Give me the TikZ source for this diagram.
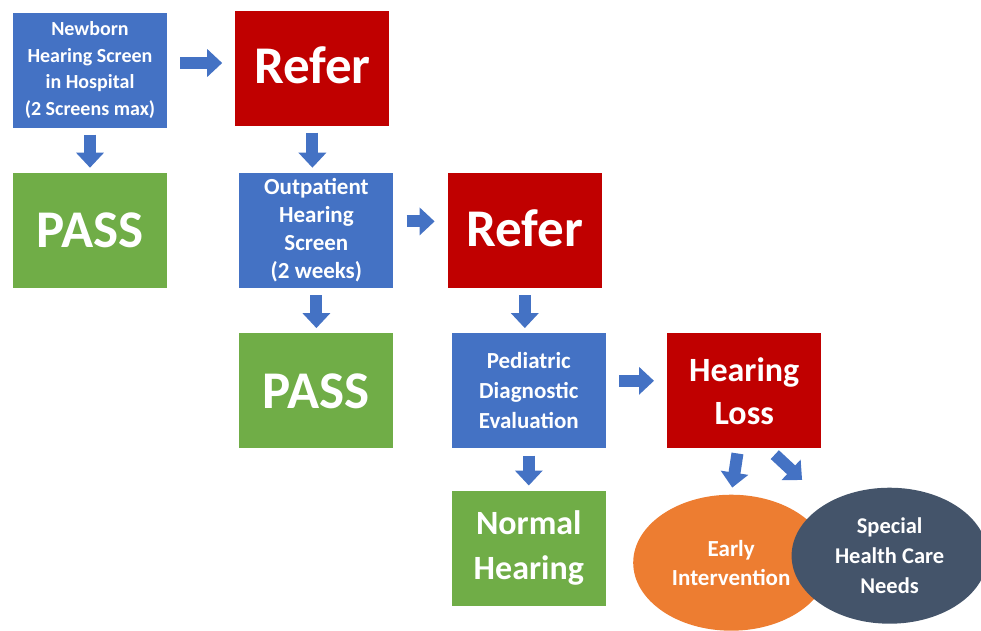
\documentclass[tikz,border=0pt]{standalone}
\usepackage{fontspec}
\setmainfont{Carlito}
\usetikzlibrary{arrows.meta,positioning}
\usetikzlibrary{shapes.geometric}

\definecolor{boxblue}{HTML}{4472C4}
\definecolor{boxred}{HTML}{C00000}
\definecolor{boxgreen}{HTML}{70AD47}
\definecolor{boxorange}{HTML}{ED7D31}
\definecolor{boxslate}{HTML}{44546A}
\definecolor{arrowblue}{HTML}{4472C4}

\begin{document}
\begin{tikzpicture}[x=1pt, y=1pt, node distance=45pt and 60pt,
    block/.style = {rectangle, minimum height=115pt, minimum width=154pt, align=center, text=white,
                    font=\bfseries\fontsize{23}{28}\selectfont},
    screen/.style = {block, fill=boxblue},
    refer/.style = {block, fill=boxred, font=\bfseries\fontsize{53}{60}\selectfont},
    pass/.style = {block, fill=boxgreen, font=\bfseries\fontsize{53}{60}\selectfont},
    blob/.style = {ellipse, minimum width=196pt, minimum height=136pt, inner sep=0pt, align=center, text=white,
                   font=\bfseries\fontsize{23}{29}\selectfont},
    flow/.style = {draw=arrowblue, line width=12pt, -{Triangle[width=27pt,length=15pt]}},
    hflow/.style = {flow, shorten <=13pt, shorten >=13pt},
    vflow/.style = {flow, shorten <=7pt, shorten >=5pt},]
    \useasboundingbox (0,0) rectangle (981,-630);
    \node [screen, font=\bfseries\fontsize{20}{26.5}\selectfont] (newborn) at (90,-70) {Newborn\\Hearing Screen\\in Hospital\\(2 Screens max)};
    \node [refer, right=68pt of newborn, yshift=2pt] (refer_one) {\raisebox{5pt}{Refer}};
    \node [pass, below=of newborn] (pass_one) {PASS};
    \node [screen, below=47pt of refer_one, xshift=4pt] (outpatient) {Outpatient\\Hearing\\Screen\\(2 weeks)};
    \node [refer, right=54pt of outpatient] (refer_two) {\raisebox{5pt}{Refer}};
    \node [pass, below=of outpatient] (pass_two) {PASS};
    \node [screen, below=of refer_two, xshift=4pt, font=\bfseries\fontsize{23}{30}\selectfont] (pediatric) {Pediatric\\Diagnostic\\Evaluation};
    \node [refer, right=61pt of pediatric, font=\bfseries\fontsize{34}{43}\selectfont] (hear_loss) {Hearing\\Loss};
    \node [pass, below=42pt of pediatric, font=\bfseries\fontsize{34}{45}\selectfont] (normal) {Normal\\Hearing};
    \node [blob, fill=boxorange, below=46pt of hear_loss, xshift=-13pt] (early_int) {Early\\Intervention};
    \node [blob, fill=boxslate, right=-38pt of early_int, yshift=7pt, font=\bfseries\fontsize{22.5}{30}\selectfont] (special_hc) {Special\\Health Care\\Needs};
    \draw[hflow] ([yshift=7pt]newborn.east) -- ([yshift=7pt]newborn.east -| refer_one.west);
    \draw[vflow] (newborn.south) -- (newborn.south |- pass_one.north);
    \draw[vflow] (refer_one.south) -- (refer_one.south |- outpatient.north);
    \draw[hflow] ([yshift=9pt]outpatient.east) -- ([yshift=9pt]refer_two.west);
    \draw[vflow] (outpatient) -- (pass_two);
    \draw[vflow] (refer_two.south) -- (refer_two.south |- pediatric.north);
    \draw[hflow] ([yshift=10pt]pediatric.east) -- ([yshift=10pt]hear_loss.west);
    \draw[vflow] (pediatric) -- (normal);
    \draw[flow, shorten <=5pt, shorten >=7pt] ([xshift=-6pt]hear_loss.south) -- (early_int.north);
    \draw[flow, shorten <=9pt, shorten >=34pt] ([xshift=24pt]hear_loss.south) -- (special_hc.140);
  \end{tikzpicture}
\end{document}
